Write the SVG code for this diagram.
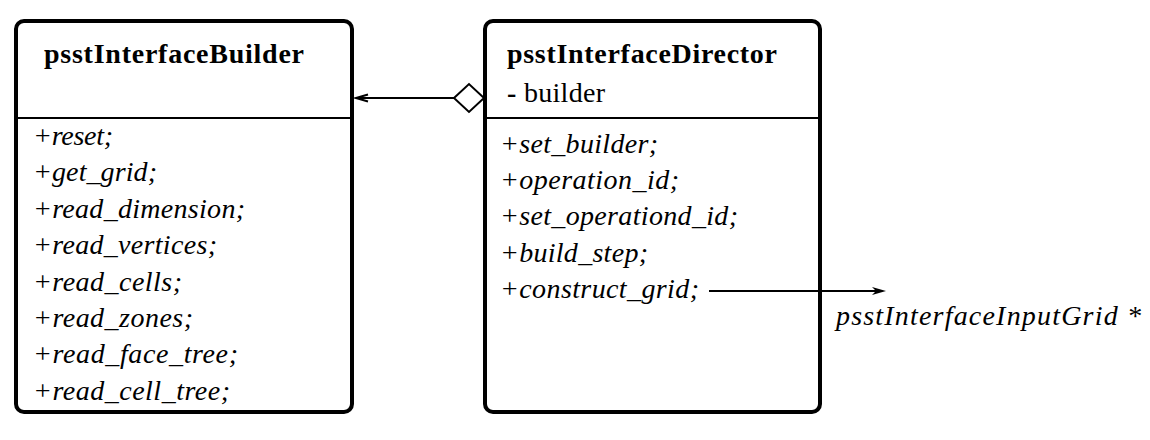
<svg xmlns="http://www.w3.org/2000/svg" width="1150" height="440" viewBox="0 0 1150 440">
<style>
.box{fill:#fff;stroke:#000;stroke-width:4}
.div{stroke:#000;stroke-width:2}
.title{font-weight:bold}
.m{font-style:italic}
.ln{stroke:#000;stroke-width:2;fill:none}
</style>
<rect width="1150" height="440" fill="#fff"/>
<g font-family="Liberation Serif, DejaVu Serif, serif" font-size="28" fill="#000">
<g id="psstInterfaceBuilder">
<rect class="box" x="16" y="21" width="336" height="391" rx="8"/>
<line class="div" x1="16" y1="118" x2="352" y2="118"/>
<text class="title" x="44" y="63" textLength="260">psstInterfaceBuilder</text>
<text class="m" x="33" y="145" textLength="80">+reset;</text>
<text class="m" x="33" y="181.4" textLength="124">+get_grid;</text>
<text class="m" x="33" y="217.8" textLength="212">+read_dimension;</text>
<text class="m" x="33" y="254.2" textLength="184">+read_vertices;</text>
<text class="m" x="33" y="290.6" textLength="149">+read_cells;</text>
<text class="m" x="33" y="327" textLength="160">+read_zones;</text>
<text class="m" x="33" y="363.4" textLength="205">+read_face_tree;</text>
<text class="m" x="33" y="399.8" textLength="197">+read_cell_tree;</text>
</g>
<g id="psstInterfaceDirector">
<rect class="box" x="485" y="21" width="335" height="391" rx="8"/>
<line class="div" x1="485" y1="118" x2="820" y2="118"/>
<text class="title" x="507" y="63" textLength="270">psstInterfaceDirector</text>
<text x="507" y="102" textLength="98"><tspan font-weight="bold">-</tspan> builder</text>
<text class="m" x="500" y="152.5" textLength="158">+set_builder;</text>
<text class="m" x="500" y="188.9" textLength="179">+operation_id;</text>
<text class="m" x="500" y="225.3" textLength="238">+set_operationd_id;</text>
<text class="m" x="500" y="261.7" textLength="148">+build_step;</text>
<text class="m" x="500" y="298.1" textLength="199">+construct_grid;</text>
</g>
<g id="grid-label">
<text class="m" x="836" y="325" textLength="305">psstInterfaceInputGrid *</text>
</g>
</g>
<g id="connectors">
<line class="ln" x1="454" y1="98" x2="356" y2="98"/>
<path class="ln" d="M368,94.5 L356,98 L368,101.5"/>
<polygon points="454,98 469,84 484,98 469,112" fill="#fff" stroke="#000" stroke-width="2"/>
<line class="ln" x1="709" y1="291" x2="876" y2="291"/>
<polygon points="886,291 872,287 876,291 872,295" fill="#000"/>
</g>
</svg>
